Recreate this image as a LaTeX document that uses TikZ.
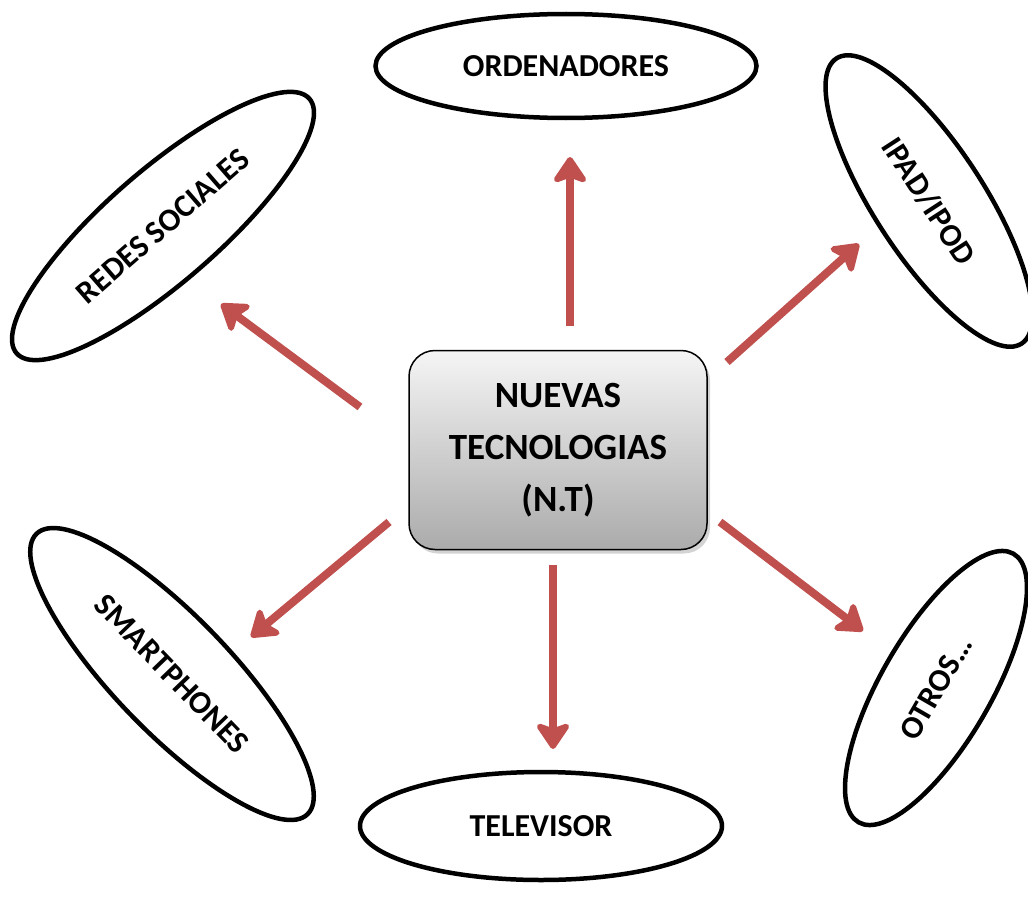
\documentclass[tikz,border=0pt]{standalone}
\usepackage{fontspec}
\setmainfont{Carlito}
\usetikzlibrary{arrows.meta,shapes.geometric,shadows}
\definecolor{arrred}{HTML}{C0504D}
\tikzset{
  lbl/.style={draw=black, line width=4.5pt, ellipse, inner sep=0pt, fill=white,
    font=\bfseries\fontsize{32}{38}\selectfont},
  centerbox/.style={draw=black, line width=1.5pt, rounded corners=26pt,
    minimum width=298pt, minimum height=199pt, top color=black!4, bottom color=black!33,
    align=center, font=\bfseries\fontsize{37}{52}\selectfont,
    drop shadow={opacity=0.35, shadow xshift=3pt, shadow yshift=-4pt}},
  arr/.style={draw=arrred, line width=8pt,
    -{Stealth[length=30pt, width=40pt, inset=7pt, round]}}
}
\begin{document}
\begin{tikzpicture}[x=1pt,y=-1pt]
\useasboundingbox (0,0) rectangle (1028,907);
\node[centerbox] (nt) at (558,450) {NUEVAS\\TECNOLOGIAS\\(N.T)};
\node[lbl, minimum width=381pt, minimum height=104pt] (ord) at (566,66) {ORDENADORES};
\node[lbl, minimum width=362pt, minimum height=108pt] (tv) at (541,826) {TELEVISOR};
\node[lbl, minimum width=388pt, minimum height=112pt, rotate=41] (red) at (163,226) {REDES SOCIALES};
\node[lbl, minimum width=340pt, minimum height=110pt, rotate=-57] (ipad) at (929,201) {IPAD/IPOD};
\node[lbl, minimum width=390pt, minimum height=116pt, rotate=-46] (sm) at (172,674) {SMARTPHONES};
\node[lbl, minimum width=310pt, minimum height=110pt, rotate=60] (otr) at (936,688) {OTROS…};
% arrow end points
\coordinate (a1s) at (570,326); \coordinate (a1e) at (570,157);
\coordinate (a2s) at (553,565); \coordinate (a2e) at (553,749);
\coordinate (a3s) at (360,407); \coordinate (a3e) at (221,304);
\coordinate (a4s) at (727,362); \coordinate (a4e) at (859,244);
\coordinate (a5s) at (389,522); \coordinate (a5e) at (251,637);
\coordinate (a6s) at (720,522); \coordinate (a6e) at (863,631);
\draw[arr] (a1s) -- (a1e);
\draw[arr] (a2s) -- (a2e);
\draw[arr] (a3s) -- (a3e);
\draw[arr] (a4s) -- (a4e);
\draw[arr] (a5s) -- (a5e);
\draw[arr] (a6s) -- (a6e);
\end{tikzpicture}
\end{document}
